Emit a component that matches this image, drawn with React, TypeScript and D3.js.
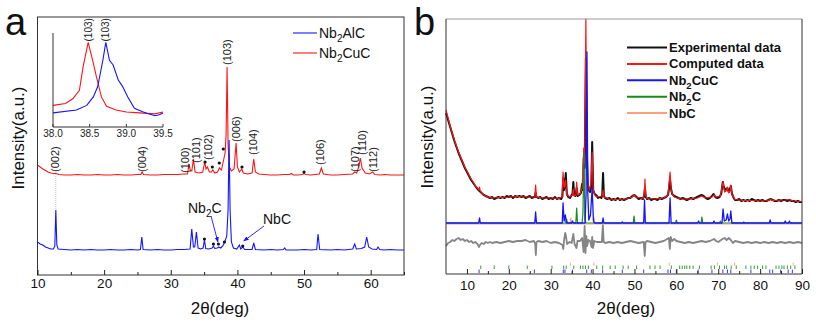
import * as d3 from 'd3';
import { useEffect, useRef } from 'react';

type Pt = [number, number];

/**
 * (a) XRD patterns, intensity measured above each trace's own baseline
 */

// Nb2AlC
const alcTrace: Pt[] = [
  [10, 8], [10.4, 6], [10.8, 5], [11.2, 3], [11.6, 2], [12, 1], [12.4, 1], [12.6, 4], [12.75, 40], [12.9, 5], [13.1, 1],
  [14, 0.5], [15, 0], [16, 0.5], [17, 0], [18, 0.5], [19, 0], [20, 0], [21, 0.5], [22, 0], [23, 0], [24, 0.5], [25, 0],
  [25.45, 0.5], [25.65, 13], [25.85, 0.5], [27, 0], [28, 0.5], [29, 0], [30, 0], [31, 0.5], [32, 0.5], [32.9, 1],
  [33.15, 21], [33.4, 3], [33.6, 3], [33.85, 18], [34.1, 2], [34.5, 1], [34.85, 2], [35.05, 10], [35.25, 1.5], [35.7, 1],
  [36.2, 2], [36.4, 4], [36.6, 1.5], [37.0, 2], [37.2, 3], [37.5, 2], [37.8, 4], [38.1, 8], [38.4, 14], [38.6, 40],
  [38.75, 110], [38.9, 40], [39.1, 8], [39.4, 2], [39.9, 1], [40.3, 5], [40.5, 1], [40.8, 3], [41.1, 0.5], [42.2, 0.5],
  [42.45, 7], [42.7, 0.5], [44, 0], [45, 0.5], [46, 0], [46.9, 0.5], [47.1, 2], [47.3, 0], [49, 0], [50, 0.5], [51, 0],
  [51.9, 0.5], [52.1, 16], [52.35, 0.5], [54, 0], [55, 0.5], [56, 0], [57.3, 1], [57.6, 6], [57.85, 1], [58.6, 1.5],
  [59.1, 3], [59.4, 13], [59.7, 3], [60.2, 1], [60.9, 0.5], [61.1, 3], [61.35, 0.5], [62, 0], [63, 0.5], [64, 0], [65, 0],
];

// Nb2CuC
const cucTrace: Pt[] = [
  [10, 10], [10.4, 8], [10.8, 6], [11.2, 4.5], [11.6, 3], [12, 2], [12.4, 1.5], [12.8, 1.5], [13.2, 0.5], [14, 0], [15, 0],
  [16, 0.5], [17, 0], [18, 0], [19, 0.5], [20, 0], [21, 0], [22, 0.5], [23, 0], [24, 0], [25, 0.5], [25.5, 0.5], [25.7, 3],
  [25.9, 0.5], [27, 0], [28, 0], [29, 0.5], [30, 0.5], [31, 0.5], [32, 1], [32.5, 1], [32.75, 11], [32.95, 4], [33.15, 4],
  [33.4, 16], [33.65, 3], [34.2, 2], [34.8, 3], [35.1, 13], [35.3, 6], [35.5, 8], [35.8, 3], [36.1, 3], [36.3, 5],
  [36.6, 2], [37.0, 3], [37.3, 7], [37.6, 5], [37.9, 14], [38.15, 22], [38.3, 40], [38.45, 108], [38.6, 30], [38.8, 8],
  [39.1, 4], [39.5, 6], [39.8, 32], [40.0, 8], [40.3, 3], [40.65, 6], [40.9, 2], [41.5, 1], [42.2, 2], [42.45, 16],
  [42.7, 3], [43.2, 1], [44, 0.5], [45, 0], [46, 0], [47, 0.5], [47.8, 0.5], [48.1, 1.5], [48.4, 0], [49, 0], [49.8, 0.5],
  [50.0, 2], [50.2, 0.5], [51, 0], [52.3, 1], [52.6, 7], [52.9, 1], [54, 0], [55, 0], [56, 0.5], [57.3, 1], [57.6, 3],
  [57.9, 2], [58.2, 8], [58.45, 17], [58.7, 7], [59.2, 2], [59.8, 1], [60.3, 3], [60.6, 0.5], [61.5, 0], [62, 0.5],
  [63, 0], [64, 0], [65, 0],
];

// stacking offsets of the two patterns
const alcShift = 25;
const cucShift = 100;

// close-up of the (103) reflection
const alcZoom: Pt[] = [
  [38.0, 15], [38.32, 18], [38.46, 23], [38.55, 32], [38.61, 43], [38.68, 71], [38.72, 90], [38.77, 71], [38.82, 66],
  [38.89, 50], [38.95, 43], [39.02, 32], [39.11, 20], [39.23, 16], [39.3, 14], [39.39, 12], [39.45, 13], [39.5, 15],
];
const cucZoom: Pt[] = [
  [38.0, 23], [38.17, 25], [38.27, 30], [38.36, 39], [38.41, 64], [38.48, 90], [38.55, 68], [38.59, 54], [38.66, 32],
  [38.73, 22], [38.86, 18], [39.0, 16], [39.18, 15], [39.39, 14], [39.5, 16],
];
const zoomTicks = [38.0, 38.5, 39.0, 39.5];
const zoomTags: Pt[] = [[38.48, 91], [38.72, 91]];

// Miller indices: label, 2θ, level where the label starts
const hklTags: [string, number, number][] = [
  ['(002)', 12.7, 103], ['(004)', 25.7, 103], ['(100)', 32.1, 102], ['(101)', 33.8, 112], ['(102)', 35.55, 115],
  ['(103)', 38.4, 210], ['(006)', 39.8, 133], ['(104)', 42.4, 120], ['(106)', 52.4, 110], ['(107)', 57.6, 103],
  ['(110)', 58.7, 120], ['(112)', 60.4, 103],
];

// impurity reflections (Nb2C / NbC) marked with a dot
const impurityDots: Pt[] = [
  [35.14, 113], [36.24, 108], [37.28, 112], [37.88, 126], [40.69, 108], [50.0, 103],
  [35.05, 36], [36.4, 31], [37.15, 31], [38.05, 33], [40.8, 29],
];

const ticksA = [10, 20, 30, 40, 50, 60];
const minorA = [15, 25, 35, 45, 55, 65];

/**
 * (b) Rietveld refinement
 */

const expTrace: Pt[] = [
  [5, 85], [5.5, 78], [6, 71], [6.5, 64], [7, 57], [7.5, 51], [8, 45], [8.5, 40], [9, 35], [9.5, 30], [10, 26], [10.5, 22],
  [11, 18], [11.5, 15], [12, 12], [12.5, 9], [13, 7], [13.5, 5], [14, 3], [14.5, 2], [15, 1], [15.5, 0], [16, 1],
  [16.5, -1], [17, 0], [17.5, 1], [18, 0], [18.5, 1], [19, 0], [19.5, 2], [20, 1], [20.5, 2], [21, 0], [21.5, 2], [22, 1],
  [22.5, 2], [23, 1], [23.5, 2], [24, 0], [24.5, 1], [25, 2], [25.5, 0], [26, 1], [26.2, 1], [26.4, 5], [26.6, 1], [27, 0],
  [27.5, 1], [28, -1], [28.5, 0], [29, 1], [29.5, -1], [30, 0], [30.5, -1], [31, 1], [31.5, -1], [32, 0], [32.5, -1],
  [32.8, 2], [33.0, 20], [33.2, 8], [33.4, 12], [33.6, 25], [33.85, 4], [34.2, 1], [34.6, 0], [35.0, 3], [35.2, 4],
  [35.4, 16], [35.6, 3], [35.9, 2], [36.2, 10], [36.45, 2], [36.8, 3], [37.2, 5], [37.5, 14], [37.7, 8], [37.9, 40],
  [38.1, 30], [38.4, 140], [38.6, 50], [38.85, 14], [39.1, 8], [39.4, 6], [39.7, 12], [39.9, 56], [40.15, 8], [40.5, 4],
  [40.9, 3], [41.3, 0], [41.7, 1], [42.1, 0], [42.3, 3], [42.5, 25], [42.7, 2], [43, 0], [43.5, -1], [44, 0], [44.5, -2],
  [45, -1], [45.5, -2], [46, 0], [46.5, -2], [47, -1], [47.5, -2], [48, -1], [48.5, 0], [49, 0], [49.5, 2], [50, 3],
  [50.5, 1], [51, -1], [51.5, 0], [52, -1], [52.3, 2], [52.5, 10], [52.7, 1], [53, -1], [53.5, 0], [54, -2], [54.5, -1],
  [55, -1], [55.5, -2], [56, 0], [56.5, -1], [57, 0], [57.5, 1], [58, 3], [58.2, 8], [58.5, 18], [58.7, 10], [59, 4],
  [59.5, 2], [60, 1], [60.5, 0], [61, -1], [61.5, 0], [62, -1], [62.5, -2], [63, -1], [63.5, 0], [64, -1], [64.5, 0],
  [65, 1], [65.5, 2], [66, 3], [66.5, 2], [67, 0], [67.5, -1], [68, 0], [68.5, 2], [68.9, 4], [69.3, 1], [69.8, 0],
  [70.3, 1], [70.7, 4], [71.1, 16], [71.3, 12], [71.6, 8], [71.9, 9], [72.2, 10], [72.5, 6], [72.8, 9], [73.0, 12],
  [73.3, 4], [73.7, 0], [74, -2], [74.5, -2], [75, -1], [75.5, -3], [76, -2], [76.5, -3], [77, -2], [77.5, -3], [78, -1],
  [78.5, -2], [79, -3], [79.5, -2], [80, -3], [80.5, -2], [81, -3], [81.5, -3], [82, -2], [82.5, -1], [83, -2],
  [83.5, -3], [84, -3], [84.5, -2], [85, -3], [85.5, -2], [86, -2], [86.5, -3], [87, -2], [87.5, -3], [88, -3],
  [88.5, -4], [89, -3], [89.5, -4], [90, -4],
];

const calcTrace: Pt[] = [
  [5, 88], [5.5, 80], [6, 72], [6.5, 65], [7, 58], [7.5, 52], [8, 46], [8.5, 41], [9, 36], [9.5, 31], [10, 27],
  [10.5, 23], [11, 19], [11.5, 16], [12, 12], [12.5, 10], [12.85, 8], [13.0, 11], [13.15, 7], [13.5, 5], [14, 3], [15, 1],
  [16, 0], [18, 0.5], [20, 1], [22, 1.5], [24, 1], [26.2, 1], [26.4, 13], [26.6, 1], [28, 0], [30, 0], [32, -0.5],
  [32.7, 1], [32.95, 26], [33.2, 10], [33.55, 18], [33.8, 4], [34.5, 1], [35.2, 3], [35.4, 9], [35.6, 2], [36.0, 3],
  [36.2, 16], [36.4, 3], [37.0, 4], [37.5, 10], [37.9, 50], [38.1, 35], [38.4, 179], [38.6, 60], [38.85, 16], [39.2, 8],
  [39.6, 14], [39.9, 46], [40.15, 8], [40.5, 3], [41, 1], [42.3, 2], [42.5, 8], [42.7, 1], [44, -1], [46, -1.5],
  [48, -1], [49.5, 1], [49.9, 3], [50.3, 1], [52, -0.5], [52.35, 4], [52.5, 19], [52.7, 2], [53, -0.5], [55, -1], [57, 0],
  [58, 3], [58.5, 26], [58.8, 6], [59.5, 1], [61, -1], [63, -1], [65, 0], [66, 2], [67, 0], [68.5, 1], [69, 3], [69.5, 1],
  [70.5, 2], [71.15, 16], [71.5, 6], [71.9, 7], [72.2, 11], [72.5, 5], [72.8, 7], [73.0, 13], [73.3, 3], [74, -1.5],
  [76, -2.5], [78, -2.5], [80, -3], [82, -2.5], [82.5, -1], [83, -2.5], [86, -2], [86.7, -1.5], [88, -3], [90, -3.5],
];

// single-phase contributions
const cucPhase: Pt[] = [
  [5, 0], [12.8, 0], [13.0, 5], [13.2, 0], [26.2, 0], [26.4, 11], [26.6, 0], [32.75, 0], [32.95, 20], [33.2, 2],
  [33.5, 8], [33.75, 0], [35.0, 0], [35.2, 2], [35.4, 0], [38.2, 0], [38.45, 30], [38.65, 171], [38.85, 30], [39.1, 3],
  [39.5, 8], [39.9, 35], [40.2, 2], [40.5, 0], [42.3, 0], [42.5, 5], [42.7, 0], [46.9, 0], [47.1, 1], [47.3, 0],
  [52.2, 0], [52.4, 23], [52.6, 0], [58.25, 0], [58.5, 25], [58.75, 0], [65.1, 0], [65.3, 2], [65.5, 0], [68.8, 0],
  [69.0, 2], [69.2, 0], [70.9, 0], [71.15, 14], [71.45, 2], [71.9, 3], [72.2, 9], [72.5, 2], [72.8, 4], [73.0, 12],
  [73.25, 0], [82.2, 0], [82.4, 3], [82.6, 0], [85.8, 0], [86.0, 2], [86.2, 0], [86.8, 0], [87.0, 2], [87.2, 0], [90, 0],
];
const nb2cPhase: Pt[] = [
  [5, 0], [33.6, 0], [33.8, 4], [34.0, 0], [36.0, 0], [36.2, 15], [36.4, 0], [37.5, 0], [37.7, 10], [37.95, 71],
  [38.15, 4], [38.4, 0], [49.7, 0], [49.9, 7], [50.1, 0], [59.8, 0], [60.0, 3], [60.2, 0], [65.9, 0], [66.1, 6],
  [66.3, 0], [70.3, 0], [70.5, 2], [70.7, 0], [75.9, 0], [76.1, 1], [76.3, 0], [90, 0],
];
const nbcPhase: Pt[] = [
  [5, 0], [34.6, 0], [34.8, 6], [35.0, 0], [40.2, 0], [40.4, 6], [40.6, 0], [58.2, 0], [58.4, 2], [58.6, 0], [69.6, 0],
  [69.8, 1], [70, 0], [73.2, 0], [73.4, 2], [73.6, 0], [87.2, 0], [87.4, 1], [87.6, 0], [90, 0],
];

// observed minus calculated
const diffTrace: Pt[] = [
  [5, -4], [5.5, -1], [6, 0], [6.5, 2], [7, 1], [7.5, 3], [8, 4], [8.5, 2], [9, 3], [9.5, 1], [10, 2], [10.5, 0], [11, 1],
  [11.5, -1], [12, 0], [12.5, -2], [12.9, -5], [13.1, -3], [13.5, -1], [14, -2], [14.5, 0], [15, -1], [15.5, 0], [16, -1],
  [17, 0], [18, -1], [19, 0], [20, 1], [21, 0], [22, 1], [23, 1], [24, 2], [25, 0], [26, 1], [26.3, -2], [26.45, -13],
  [26.6, 0], [27, 1], [28, 0], [29, 1], [30, -1], [31, 0], [32, -1], [32.8, -3], [33.0, -7], [33.2, 2], [33.45, 9],
  [33.65, 6], [33.9, -2], [34.5, 0], [35.0, -1], [35.4, 8], [35.7, -2], [36.15, -6], [36.4, 1], [37.0, 1], [37.5, 4],
  [37.85, -10], [38.1, 16], [38.3, -11], [38.5, 6], [38.7, -4], [39.0, 2], [39.4, 1], [39.75, -5], [39.9, 5], [40.1, -6],
  [40.4, 1], [41, 0], [42.2, 0], [42.45, 17], [42.65, 0], [43, -1], [44, 0], [45, -1], [46, 0], [47, -1], [48, 0], [49, 1],
  [50, 0], [51, -1], [52.2, 0], [52.45, -14], [52.65, 0], [53, 1], [54, 0], [55, -1], [56, 0], [57, 1], [58.2, 4],
  [58.45, -7], [58.65, 5], [59, 1], [59.5, 3], [60, 1], [61, 0], [62, -1], [63, 0], [64, -1], [65, 0], [66, 1], [67, 0],
  [68, 1], [69, 3], [69.5, 1], [70, 0], [71, 3], [71.5, 4], [72, 2], [72.5, 4], [73, 2], [73.5, -1], [74, 1], [75, 0],
  [76, -1], [77, 0], [78, -1], [79, 0], [80, -1], [81, 0], [82, -1], [83, 0], [84, -1], [85, 0], [86, -1], [87, 0],
  [88, -1], [89, 0], [90, -1],
];

// Bragg positions of each phase
const cucPeaks = [12.9, 26.1, 33.0, 33.4, 35.2, 38.6, 39.7, 42.4, 47.1, 52.2, 58.0, 58.6, 60.0, 65.2, 68.5, 71.1, 72.2,
  73.0, 77.8, 82.3, 83.0, 84.9, 86.7, 87.7];
const nb2cPeaks = [13.3, 16.5, 20.0, 24.4, 30.3, 33.1, 33.7, 35.5, 37.1, 37.7, 38.3, 39.0, 41.0, 42.4, 44.2, 45.4, 47.3,
  48.5, 50.5, 53.7, 54.9, 56.1, 58.8, 60.8, 61.4, 62.0, 62.5, 63.2, 64.0, 65.5, 68.3, 69.1, 70.3, 71.5, 72.0, 73.1, 74.3,
  76.6, 77.8, 78.6, 79.4, 80.6, 81.4, 83.8, 84.5, 85.2, 85.7, 86.5, 87.3, 88.3];
const nbcPeaks = [34.7, 40.3, 58.3, 69.8, 73.9, 87.9];

const ticksB = [10, 20, 30, 40, 50, 60, 70, 80, 90];
const minorB = [15, 25, 35, 45, 55, 65, 75, 85];

const FONT = '"Liberation Sans", Arial, Helvetica, sans-serif';

// "Nb_2CuC" -> Nb, subscript 2, CuC
function richText(t: any, str: string, sub: number) {
  let lowered = false;
  str.split(/(_\d)/).forEach((part) => {
    if (!part) return;
    if (part.startsWith('_')) {
      t.append('tspan').attr('font-size', sub).attr('dy', 4).text(part.slice(1));
      lowered = true;
    } else {
      t.append('tspan').attr('dy', lowered ? -4 : 0).text(part);
      lowered = false;
    }
  });
}

function bottomAxis(g: any, x: any, y0: number, major: number[], minor: number[], pad: number) {
  const ax = g
    .append('g')
    .attr('transform', `translate(0,${y0})`)
    .call(d3.axisBottom(x).tickValues(major).tickSizeInner(-5).tickSizeOuter(0).tickPadding(pad).tickFormat(d3.format('d')));
  ax.attr('font-family', null).attr('font-size', 13.5);
  ax.select('.domain').remove();
  ax.selectAll('line').attr('stroke', '#222');
  ax.selectAll('text').attr('fill', '#111');
  const mn = g
    .append('g')
    .attr('transform', `translate(0,${y0})`)
    .call(d3.axisBottom(x).tickValues(minor).tickSizeInner(-3).tickSizeOuter(0).tickFormat(() => ''));
  mn.select('.domain').remove();
  mn.selectAll('line').attr('stroke', '#222');
}

function drawPanelA(g: any) {
  const x = d3.scaleLinear().domain([10, 65]).range([37.5, 404]);
  const y = d3.scaleLinear().domain([0, 258]).range([275, 17]);
  const path = (shift: number) =>
    d3.line<Pt>().x((d) => x(d[0])).y((d) => y(d[1] + shift));

  // guide from the (002) label down to the Nb2AlC peak
  g.append('line')
    .attr('x1', x(12.75)).attr('x2', x(12.75))
    .attr('y1', y(103)).attr('y2', y(alcShift + 40))
    .attr('stroke', '#bbb').attr('stroke-width', 0.8).attr('stroke-dasharray', '1,1');

  g.append('path').attr('d', path(cucShift)(cucTrace)).attr('fill', 'none').attr('stroke', '#ff1414').attr('stroke-width', 1.1);
  g.append('path').attr('d', path(alcShift)(alcTrace)).attr('fill', 'none').attr('stroke', '#1414ff').attr('stroke-width', 1.1);

  g.selectAll('circle.dot')
    .data(impurityDots)
    .join('circle')
    .attr('cx', (d: Pt) => x(d[0]))
    .attr('cy', (d: Pt) => y(d[1]))
    .attr('r', 1.6)
    .attr('fill', '#111');

  g.selectAll('text.hkl')
    .data(hklTags)
    .join('text')
    .attr('transform', (d: any) => `translate(${x(d[1])},${y(d[2])}) rotate(-90)`)
    .attr('dy', '0.35em')
    .attr('font-size', 11)
    .attr('fill', '#222')
    .text((d: any) => d[0]);

  // impurity callouts
  const defs = g.append('defs');
  defs.append('marker')
    .attr('id', 'arrowBlue').attr('viewBox', '0 0 10 10').attr('refX', 9).attr('refY', 5)
    .attr('markerWidth', 6).attr('markerHeight', 6).attr('orient', 'auto')
    .append('path').attr('d', 'M0,1 L10,5 L0,9 Z').attr('fill', '#1414ff');

  const t1 = g.append('text').attr('x', 188).attr('y', 213).attr('font-size', 14).attr('fill', '#111');
  richText(t1, 'Nb_2C', 10);
  g.append('line')
    .attr('x1', 211).attr('y1', 216).attr('x2', x(37.15) - 0.5).attr('y2', y(31) - 2)
    .attr('stroke', '#1414ff').attr('stroke-width', 0.9).attr('marker-end', 'url(#arrowBlue)');
  g.append('text').attr('x', 263).attr('y', 224).attr('font-size', 14).attr('fill', '#111').text('NbC');
  g.append('line')
    .attr('x1', 264).attr('y1', 226).attr('x2', x(40.8) + 1).attr('y2', y(29) - 5)
    .attr('stroke', '#1414ff').attr('stroke-width', 0.9).attr('marker-end', 'url(#arrowBlue)');

  // close-up of (103)
  const xi = d3.scaleLinear().domain([38, 39.5]).range([53, 163]);
  const yi = d3.scaleLinear().domain([0, 100]).range([127, 33]);
  const li = d3.line<Pt>().x((d) => xi(d[0])).y((d) => yi(d[1]));
  g.append('path').attr('d', li(cucZoom)).attr('fill', 'none').attr('stroke', '#ff1414').attr('stroke-width', 1.1);
  g.append('path').attr('d', li(alcZoom)).attr('fill', 'none').attr('stroke', '#1414ff').attr('stroke-width', 1.1);
  g.append('line').attr('x1', 53).attr('x2', 53).attr('y1', yi(100)).attr('y2', yi(0)).attr('stroke', '#333');
  g.append('line').attr('x1', 53).attr('x2', 163).attr('y1', yi(0)).attr('y2', yi(0)).attr('stroke', '#333');
  g.selectAll('line.itick')
    .data(zoomTicks)
    .join('line')
    .attr('x1', (d: number) => xi(d)).attr('x2', (d: number) => xi(d))
    .attr('y1', yi(0)).attr('y2', yi(0) - 3)
    .attr('stroke', '#333');
  g.selectAll('text.itick')
    .data(zoomTicks)
    .join('text')
    .attr('x', (d: number) => xi(d)).attr('y', yi(0) + 10)
    .attr('text-anchor', 'middle').attr('font-size', 10).attr('fill', '#222')
    .text((d: number) => d3.format('.1f')(d));
  g.selectAll('text.itag')
    .data(zoomTags)
    .join('text')
    .attr('transform', (d: Pt) => `translate(${xi(d[0])},${yi(d[1])}) rotate(-90)`)
    .attr('dy', '0.35em').attr('font-size', 10).attr('fill', '#222')
    .text('(103)');

  // frame and axis
  g.append('rect')
    .attr('x', 37.5).attr('y', 17).attr('width', 404 - 37.5).attr('height', 275 - 17)
    .attr('fill', 'none').attr('stroke', '#333').attr('stroke-width', 1);
  bottomAxis(g, x, 275, ticksA, minorA, 3);

  // legend
  const legend: [string, string][] = [['Nb_2AlC', '#1414ff'], ['Nb_2CuC', '#ff1414']];
  legend.forEach(([name, color], i) => {
    const cy = 33 + i * 20;
    g.append('line').attr('x1', 293).attr('x2', 317).attr('y1', cy).attr('y2', cy).attr('stroke', color).attr('stroke-width', 1.1);
    const t = g.append('text').attr('x', 319).attr('y', cy + 5).attr('font-size', 14).attr('fill', '#111');
    richText(t, name, 10);
  });

  g.append('text').attr('transform', 'translate(18,138) rotate(-90)').attr('text-anchor', 'middle')
    .attr('dy', '0.35em').attr('font-size', 17).attr('fill', '#111').text('Intensity(a.u.)');
  g.append('text').attr('x', 220).attr('y', 314).attr('text-anchor', 'middle').attr('font-size', 17).attr('fill', '#111').text('2θ(deg)');
  g.append('text').attr('x', 5).attr('y', 35).attr('font-size', 38).attr('fill', '#111').text('a');
}

function drawPanelB(g: any) {
  const x = d3.scaleLinear().domain([5, 90]).range([446, 802]);
  const y = d3.scaleLinear().domain([0, 255]).range([274, 19]);
  const path = (shift: number) =>
    d3.line<Pt>().x((d) => x(d[0])).y((d) => y(d[1] + shift));

  const series: [Pt[], number, string, number][] = [
    [diffTrace, 32, '#858585', 1.8],
    [expTrace, 76, '#111', 2],
    [calcTrace, 76, '#ff1414', 1.2],
    [nbcPhase, 50, '#ffa07a', 1.2],
    [nb2cPhase, 51, '#1a8c1a', 1.2],
    [cucPhase, 51, '#1414ff', 1.3],
  ];
  series.forEach(([data, shift, color, w]) => {
    g.append('path').attr('d', path(shift)(data)).attr('fill', 'none').attr('stroke', color).attr('stroke-width', w)
      .attr('stroke-linejoin', 'round');
  });

  // Bragg tick rows
  const rows: [number[], number, string][] = [
    [nbcPeaks, 8, '#ffa07a'],
    [nb2cPeaks, 5, '#1a8c1a'],
    [cucPeaks, 1, '#1414ff'],
  ];
  rows.forEach(([peaks, level, color]) => {
    g.append('g')
      .selectAll('line')
      .data(peaks)
      .join('line')
      .attr('x1', (d: number) => x(d)).attr('x2', (d: number) => x(d))
      .attr('y1', y(level)).attr('y2', y(level + 3.5))
      .attr('stroke', color).attr('stroke-width', 1).attr('opacity', 0.85);
  });

  // frame: lighter top edge, darker sides and bottom
  g.append('line').attr('x1', 446).attr('x2', 802).attr('y1', 19).attr('y2', 19).attr('stroke', '#999');
  g.append('path')
    .attr('d', 'M446,19 V274 H802 V19')
    .attr('fill', 'none').attr('stroke', '#333').attr('stroke-width', 1);
  bottomAxis(g, x, 274, ticksB, minorB, 6);

  const legend: [string, string][] = [
    ['Experimental data', '#111'],
    ['Computed data', '#ff1414'],
    ['Nb_2CuC', '#1414ff'],
    ['Nb_2C', '#1a8c1a'],
    ['NbC', '#ffa07a'],
  ];
  legend.forEach(([name, color], i) => {
    const cy = 47.5 + i * 16.4;
    g.append('line').attr('x1', 627).attr('x2', 667).attr('y1', cy).attr('y2', cy).attr('stroke', color).attr('stroke-width', 2);
    const t = g.append('text').attr('x', 669).attr('y', cy + 4.5).attr('font-size', 13).attr('font-weight', 'bold').attr('fill', '#111');
    richText(t, name, 9.5);
  });

  g.append('text').attr('transform', 'translate(427,137) rotate(-90)').attr('text-anchor', 'middle')
    .attr('dy', '0.35em').attr('font-size', 17).attr('fill', '#111').text('Intensity(a.u.)');
  g.append('text').attr('x', 626).attr('y', 314).attr('text-anchor', 'middle').attr('font-size', 17).attr('fill', '#111').text('2θ(deg)');
  g.append('text').attr('x', 414).attr('y', 35).attr('font-size', 38).attr('fill', '#111').text('b');
}

export default function App() {
  const ref = useRef<SVGSVGElement>(null);

  useEffect(() => {
    const svg = d3.select(ref.current);
    svg.selectAll('*').remove();
    drawPanelA(svg.append('g'));
    drawPanelB(svg.append('g'));
  }, []);

  return (
    <svg
      ref={ref}
      width={816}
      height={325}
      style={{ position: 'absolute', left: 0, top: 0, background: '#fff', fontFamily: FONT }}
    />
  );
}
